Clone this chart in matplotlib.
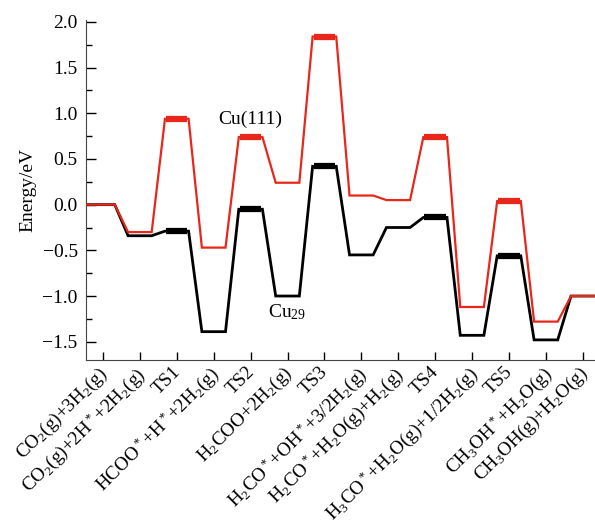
import numpy as np
import matplotlib
matplotlib.use("Agg")
import matplotlib.pyplot as plt
from matplotlib.transforms import offset_copy
from matplotlib.ticker import MultipleLocator

plt.rcParams['font.family'] = 'serif'
plt.rcParams['font.serif'] = ['Liberation Serif', 'DejaVu Serif']
plt.rcParams['mathtext.fontset'] = 'custom'
plt.rcParams['mathtext.rm'] = 'Liberation Serif'
plt.rcParams['mathtext.it'] = 'Liberation Serif:italic'
plt.rcParams['mathtext.bf'] = 'Liberation Serif:bold'

states = ['CO$_2$(g)+3H$_2$(g)',
          'CO$_2$(g)+2H$^*$+2H$_2$(g)',
          'TS1',
          'HCOO$^*$+H$^*$+2H$_2$(g)',
          'TS2',
          'H$_2$COO+2H$_2$(g)',
          'TS3',
          'H$_2$CO$^*$+OH$^*$+3/2H$_2$(g)',
          'H$_2$CO$^*$+H$_2$O(g)+H$_2$(g)',
          'TS4',
          'H$_3$CO$^*$+H$_2$O(g)+1/2H$_2$(g)',
          'TS5',
          'CH$_3$OH$^*$+H$_2$O(g)',
          'CH$_3$OH(g)+H$_2$O(g)']

e_cu111 = [0.00, -0.30, 0.94, -0.47, 0.74, 0.24, 1.84, 0.10, 0.05, 0.74, -1.12, 0.04, -1.28, -1.00]
e_cu29 = [0.00, -0.34, -0.29, -1.39, -0.05, -1.00, 0.42, -0.55, -0.25, -0.14, -1.43, -0.56, -1.48, -1.00]
ts_idx = [2, 4, 6, 9, 11]

hw = 0.32  # half width of a level


def profile(energies):
    xs, ys = [], []
    for i, e in enumerate(energies):
        left = i - hw if i > 0 else -0.5
        right = i + hw if i < len(energies) - 1 else 14
        xs += [left, right]
        ys += [e, e]
    return xs, ys


fig = plt.figure(figsize=(5.95, 5.29), dpi=100)
ax = fig.add_axes([0.1445, 0.3195, 0.8555, 0.6425])

for energies, col, lw, z in [(e_cu29, 'black', 2.0, 2), (e_cu111, '#e8261a', 1.6, 3)]:
    xs, ys = profile(energies)
    ax.plot(xs, ys, color=col, lw=lw, zorder=z, solid_joinstyle='miter')
    for i in ts_idx:
        ax.plot([i - hw + 0.03, i + hw - 0.03], [energies[i], energies[i]],
                color=col, lw=4.5, solid_capstyle='butt', zorder=z)

ax.text(4.0, 0.93, 'Cu(111)', fontsize=14, ha='center', va='center')
ax.text(5.0, -1.18, 'Cu$_{29}$', fontsize=14, ha='center', va='center')

ax.set_xlim(-0.46, 13.33)
ax.set_ylim(-1.70, 2.02)
ax.set_xticks(range(len(states)))
ax.set_xticklabels([])
# rotated state labels, nudged a little left of each tick
lab_tr = offset_copy(ax.get_xaxis_transform(), fig=fig, x=-5, y=-3, units='dots')
for i, s in enumerate(states):
    ax.text(i, 0, s, transform=lab_tr, rotation=45, ha='right', va='top',
            rotation_mode='anchor', fontsize=13.8, clip_on=False)

ax.yaxis.set_major_locator(MultipleLocator(0.5))
ax.yaxis.set_minor_locator(MultipleLocator(0.25))
ax.set_yticks(np.arange(-1.5, 2.01, 0.5))
ax.set_yticklabels(['%.1f' % v if v >= 0 else '\u2212%.1f' % -v for v in np.arange(-1.5, 2.01, 0.5)])
ax.tick_params(axis='y', which='major', direction='in', length=7, width=1, labelsize=14, pad=6)
ax.tick_params(axis='y', which='minor', direction='in', length=4, width=1)
ax.tick_params(axis='x', direction='in', length=6, width=1)
ax.spines['top'].set_visible(False)
ax.spines['right'].set_visible(False)
ax.spines['left'].set_color('#444444')
ax.spines['bottom'].set_color('#444444')
ax.set_ylabel('Energy/eV', fontsize=14, labelpad=4)

fig.savefig('out.png', dpi=100)
